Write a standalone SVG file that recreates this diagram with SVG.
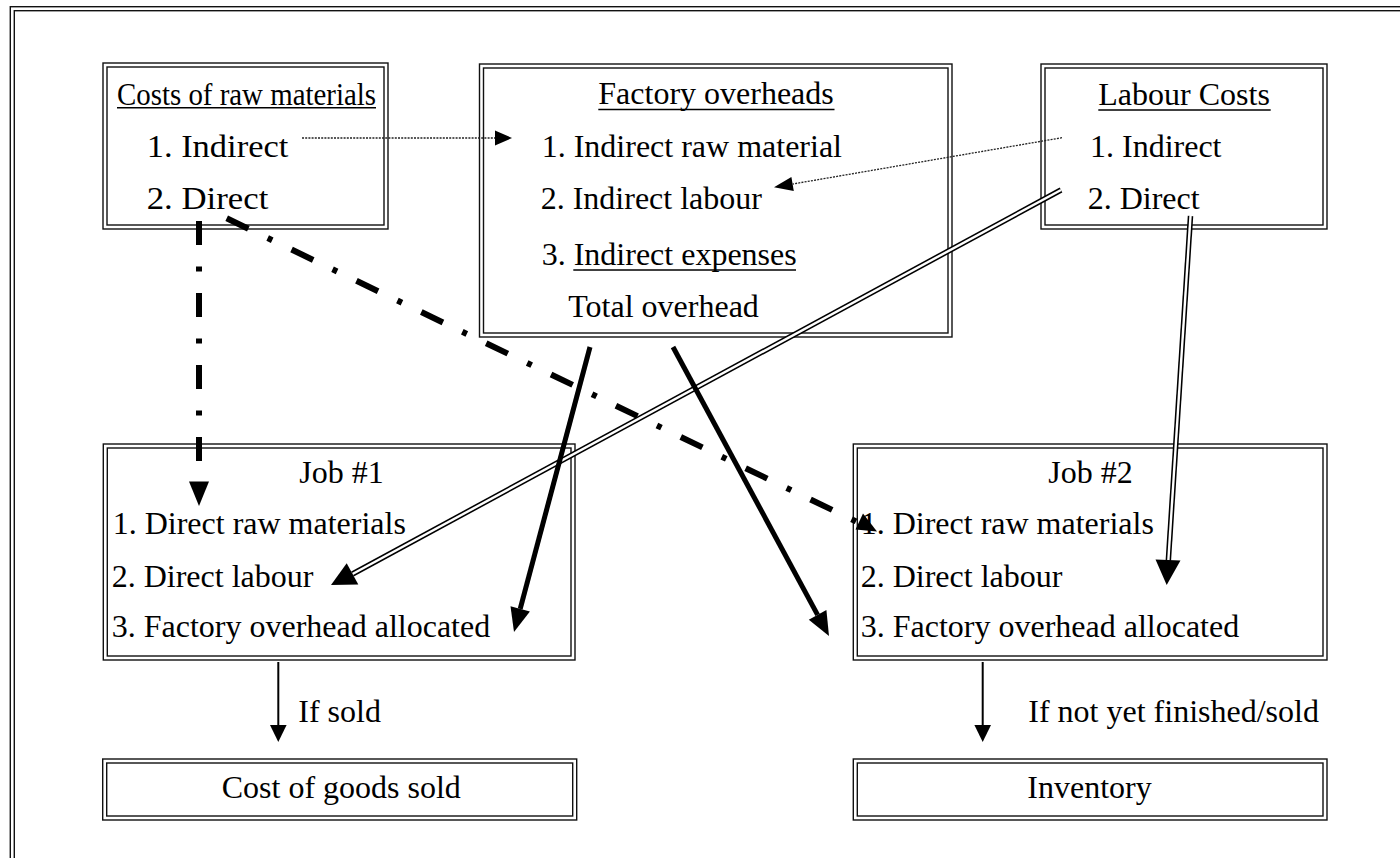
<svg xmlns="http://www.w3.org/2000/svg" width="1400" height="858" viewBox="0 0 1400 858">
  <style>
    .frame { fill: none; stroke: #111; stroke-width: 1.4; }
    .t { font-family: "Liberation Serif", "Times New Roman", serif; font-size: 32px; fill: #000; }
    .ul { stroke: #000; stroke-width: 1.5; }
    .dotted { fill: none; stroke: #222; stroke-width: 1.3; stroke-dasharray: 2 1.2; }
    .dashdot { fill: none; stroke: #000; stroke-width: 6; stroke-dasharray: 24 21.5 5 21.5; }
    .solid { fill: none; stroke: #000; stroke-width: 5; }
    .thin { fill: none; stroke: #000; stroke-width: 2; }
    .dbl-out { fill: none; stroke: #000; stroke-width: 5.5; }
    .dbl-in { fill: none; stroke: #fff; stroke-width: 2.4; }
    .head { fill: #000; }
  </style>

  <rect width="1400" height="858" fill="#fff"/>

  <!-- page border (double rule) -->
  <g id="page-border">
    <rect class="frame" x="10.3" y="6.7" width="1500" height="900"/>
    <rect class="frame" x="14.3" y="10.7" width="1500" height="900"/>
  </g>

  <!-- Costs of raw materials -->
  <g id="raw-materials">
    <rect class="frame" x="103" y="63" width="285" height="166"/>
    <rect class="frame" x="107" y="67" width="277" height="158"/>
    <text class="t" x="117" y="105" textLength="259" lengthAdjust="spacingAndGlyphs">Costs of raw materials</text>
    <line class="ul" x1="117" y1="107.8" x2="376" y2="107.8"/>
    <text class="t" x="146.7" y="156.7" textLength="141.6" lengthAdjust="spacingAndGlyphs">1. Indirect</text>
    <text class="t" x="146.7" y="209.3" textLength="121.6" lengthAdjust="spacingAndGlyphs">2. Direct</text>
  </g>

  <!-- Factory overheads -->
  <g id="factory-overheads">
    <rect class="frame" x="479.5" y="64" width="472.5" height="273"/>
    <rect class="frame" x="483.5" y="68" width="464.5" height="265"/>
    <text class="t" x="598.3" y="104">Factory overheads</text>
    <line class="ul" x1="598.3" y1="109.5" x2="834.5" y2="109.5"/>
    <text class="t" x="541.7" y="156.7">1. Indirect raw material</text>
    <text class="t" x="540.7" y="209.3">2. Indirect labour</text>
    <text class="t" x="541.7" y="265">3. Indirect expenses</text>
    <line class="ul" x1="573.3" y1="270" x2="796" y2="270"/>
    <text class="t" x="568.3" y="316.7">Total overhead</text>
  </g>

  <!-- Labour Costs -->
  <g id="labour-costs">
    <rect class="frame" x="1041" y="64" width="286" height="165"/>
    <rect class="frame" x="1045" y="68" width="278" height="157"/>
    <text class="t" x="1098.3" y="105">Labour Costs</text>
    <line class="ul" x1="1098.3" y1="110" x2="1270.7" y2="110"/>
    <text class="t" x="1090" y="156.7">1. Indirect</text>
    <text class="t" x="1087.7" y="209.3">2. Direct</text>
  </g>

  <!-- Job #1 -->
  <g id="job-1">
    <rect class="frame" x="103.3" y="444" width="471.7" height="216"/>
    <rect class="frame" x="107.3" y="448" width="463.7" height="208"/>
    <text class="t" x="299.3" y="483.3">Job #1</text>
    <text class="t" x="112.7" y="534.3">1. Direct raw materials</text>
    <text class="t" x="111.7" y="586.7">2. Direct labour</text>
    <text class="t" x="111.7" y="636.7">3. Factory overhead allocated</text>
  </g>

  <!-- Job #2 -->
  <g id="job-2">
    <rect class="frame" x="853.3" y="444" width="473.7" height="216"/>
    <rect class="frame" x="857.3" y="448" width="465.7" height="208"/>
    <text class="t" x="1048.3" y="483.3">Job #2</text>
    <text class="t" x="860.7" y="534.3">1. Direct raw materials</text>
    <text class="t" x="860.7" y="586.7">2. Direct labour</text>
    <text class="t" x="860.7" y="636.7">3. Factory overhead allocated</text>
  </g>

  <!-- Cost of goods sold -->
  <g id="cost-of-goods-sold">
    <rect class="frame" x="102.7" y="759" width="474" height="61"/>
    <rect class="frame" x="106.7" y="763" width="466" height="53"/>
    <text class="t" x="221.7" y="798.3">Cost of goods sold</text>
  </g>

  <!-- Inventory -->
  <g id="inventory">
    <rect class="frame" x="853.3" y="759" width="473.7" height="61"/>
    <rect class="frame" x="857.3" y="763" width="465.7" height="53"/>
    <text class="t" x="1027.3" y="798.3">Inventory</text>
  </g>

  <!-- connectors -->
  <g id="connectors">
    <!-- indirect raw material -> factory overheads -->
    <line class="dotted" x1="302" y1="138" x2="496" y2="138"/>
    <polygon class="head" points="512,138 495,130.5 495,145.5"/>

    <!-- indirect labour -> factory overheads -->
    <line class="dotted" x1="1062" y1="137.7" x2="792.7" y2="184"/>
    <polygon class="head" points="774,187.3 791.4,177 793.8,191"/>

    <!-- direct raw materials -> Job #1 -->
    <line class="dashdot" x1="199" y1="221" x2="199" y2="482"/>
    <polygon class="head" points="199,506 189,481.5 209,481.5"/>

    <!-- direct raw materials -> Job #2 -->
    <line class="dashdot" x1="226.7" y1="218.3" x2="858" y2="522.3"/>
    <polygon class="head" points="877,531.5 855.5,529.5 863,513.5"/>

    <!-- direct labour -> Job #1 -->
    <line class="dbl-out" x1="1061" y1="190" x2="352.5" y2="574"/>
    <line class="dbl-in" x1="1061" y1="190" x2="352.5" y2="574"/>
    <polygon class="head" points="331,585 346.7,563.3 358.3,584.5"/>

    <!-- direct labour -> Job #2 -->
    <line class="dbl-out" x1="1190.5" y1="216" x2="1168.3" y2="561"/>
    <line class="dbl-in" x1="1190.5" y1="216" x2="1168.3" y2="561"/>
    <polygon class="head" points="1166.7,585 1180.5,560.5 1155.5,559.5"/>

    <!-- total overhead -> Job #1 -->
    <line class="solid" x1="590" y1="347" x2="520.2" y2="608.8"/>
    <polygon class="head" points="514,632 510.5,606.2 529.9,611.4"/>

    <!-- total overhead -> Job #2 -->
    <line class="solid" x1="673" y1="347" x2="817.6" y2="614.9"/>
    <polygon class="head" points="829,636 808.8,619.7 826.4,610.1"/>

    <!-- Job #1 -> cost of goods sold -->
    <line class="thin" x1="278.3" y1="662" x2="278.3" y2="726"/>
    <polygon class="head" points="278.3,742 270,725 286.6,725"/>
    <text class="t" x="298.3" y="721.7">If sold</text>

    <!-- Job #2 -> inventory -->
    <line class="thin" x1="982.7" y1="662" x2="982.7" y2="726"/>
    <polygon class="head" points="982.7,742 974.4,725 991,725"/>
    <text class="t" x="1028.3" y="721.7">If not yet finished/sold</text>
  </g>
</svg>
